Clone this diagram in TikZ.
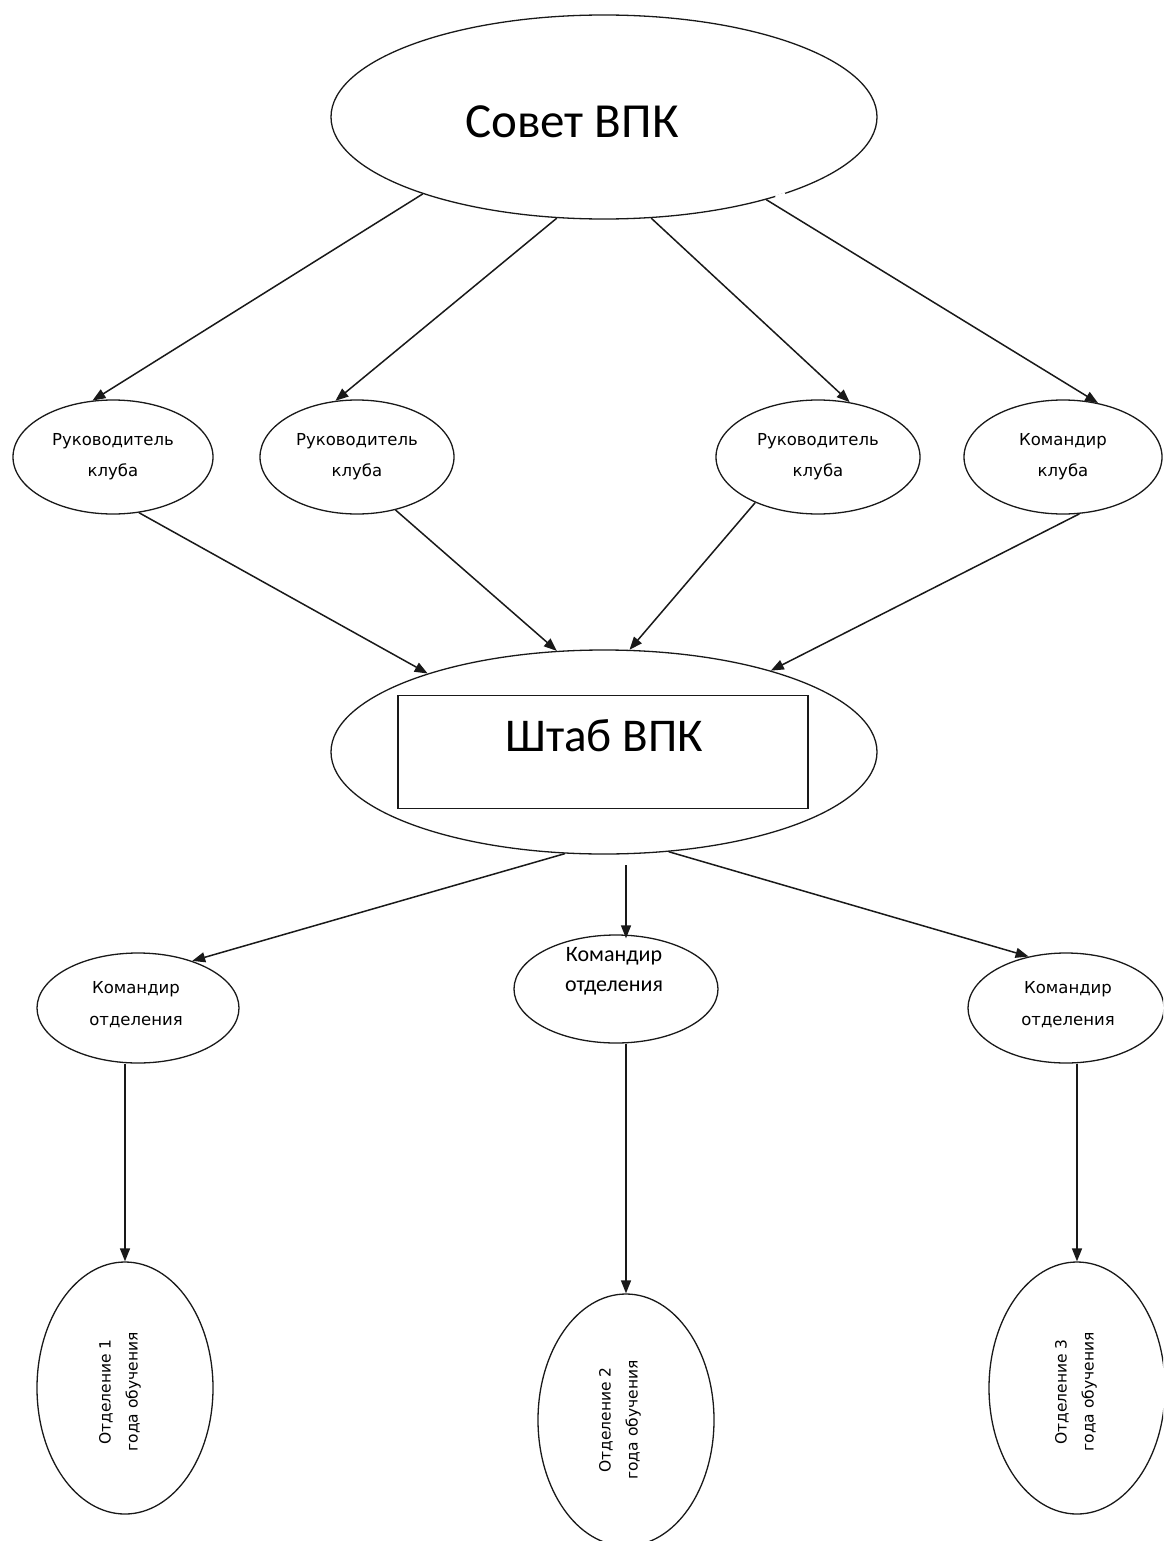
\documentclass[tikz,border=0pt]{standalone}
\usepackage{fontspec}
\setmainfont{DejaVu Sans}
\newfontfamily\bigfont{Carlito}
\usetikzlibrary{shapes.geometric,arrows.meta}
\tikzset{
  conn/.style={draw=black!90,line width=1.5pt,-{Triangle[length=13pt,width=10pt]}},
  oval/.style={ellipse,draw=black!90,line width=1.3pt,inner sep=0pt,align=center},
  bigoval/.style={oval,minimum width=546pt,minimum height=204pt},
  clubnode/.style={oval,minimum height=114pt,font=\fontsize{16.5}{31}\selectfont},
  squadnode/.style={oval,minimum height=110pt},
  smalltext/.style={inner sep=0pt,align=center,font=\fontsize{16.5}{32}\selectfont},
  deptnode/.style={oval,minimum width=176pt,minimum height=252pt},
  depttext/.style={inner sep=0pt,rotate=90,align=center,font=\fontsize{15.5}{27}\selectfont},
  bigtext/.style={font=\bigfont\fontsize{49}{55}\selectfont,inner sep=0pt}
}
\begin{document}
\begin{tikzpicture}[x=1pt,y=-1pt]
\useasboundingbox (0,0) rectangle (1163,1541);
\clip (0,0) rectangle (1163,1541);
% top
\node[bigoval] (sovet) at (604,117) {};
\draw[white,line width=3pt] (sovet.335) -- (sovet.337.3);
\node[bigtext] (sovettext) at (572,122) {Совет ВПК};
% clubs
\node[clubnode,minimum width=200pt] (e1) at (113,457) {Руководитель\\клуба};
\node[clubnode,minimum width=194pt] (e2) at (357,457) {Руководитель\\клуба};
\node[clubnode,minimum width=204pt] (e3) at (818,457) {Руководитель\\клуба};
\node[clubnode,minimum width=198pt] (e4) at (1063,457) {Командир\\клуба};
% staff
\node[bigoval] (stab) at (604,752) {};
\node[draw=black!90,line width=1.3pt,minimum width=410pt,minimum height=113pt,inner sep=0pt] (stabbox) at (603,752) {};
\node[bigtext,font=\bigfont\fontsize{47}{55}\selectfont] (stabtext) at (604,736) {Штаб ВПК};
% squad commanders
\node[squadnode,minimum width=202pt] (k1) at (138,1008) {};
\node[smalltext] (k1text) at (136,1005) {Командир\\отделения};
\node[oval,minimum width=204pt,minimum height=108pt] (k2) at (616,989) {};
\node[inner sep=0pt,align=center,font=\bigfont\fontsize{22}{30}\selectfont] (k2text) at (614,971) {Командир\\отделения};
\node[squadnode,minimum width=196pt] (k3) at (1066,1008) {};
\node[smalltext] (k3text) at (1068,1005) {Командир\\отделения};
% departments
\node[deptnode] (o1) at (125,1388) {};
\node[depttext] (o1text) at (120,1392) {Отделение 1\\года обучения};
\node[deptnode] (o2) at (626,1420) {};
\node[depttext] (o2text) at (620,1420) {Отделение 2\\года обучения};
\node[deptnode] (o3) at (1077,1388) {};
\node[depttext] (o3text) at (1076,1392) {Отделение 3\\года обучения};
% connectors top -> clubs
\draw[conn] (sovet.203.5) -- (e1.110);
\draw[conn] (sovet.245.5) -- (e2.111);
\draw[conn] (sovet.295.4) -- (e3.60.7);
\draw[conn] (sovet.333.6) -- (e4.57);
% clubs -> staff
\draw[conn] (e1.295) -- (stab.156);
\draw[conn] (e2.306.6) -- (stab.115);
\draw[conn] (e3.216.6) -- (stab.76);
\draw[conn] (e4.286.3) -- (stab.26.7);
% staff -> squads
\draw[conn] (stab.249.3) -- (k1.41);
\coordinate (vstart) at (626,865);
\draw[conn] (vstart) -- ([yshift=-4pt]vstart |- k2.north);
\draw[conn] (stab.303.4) -- (k3.126);
% squads -> departments
\draw[conn] (k1.south -| o1.north) -- (o1.north);
\draw[conn] (k2.south -| o2.north) -- (o2.north);
\draw[conn] (k3.south -| o3.north) -- (o3.north);
\end{tikzpicture}
\end{document}
